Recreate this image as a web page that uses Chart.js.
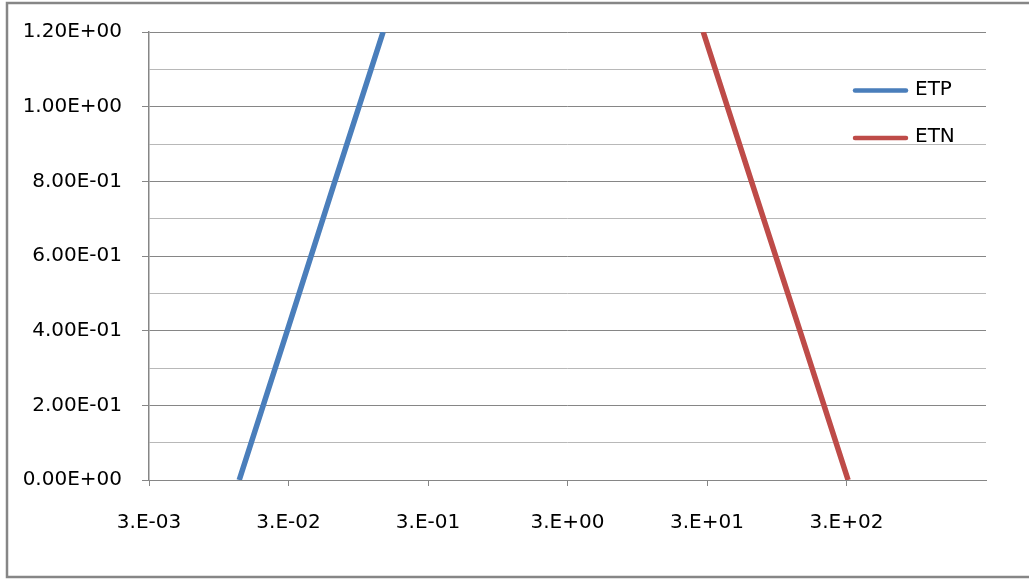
<!DOCTYPE html>
<html>
<head>
<meta charset="utf-8">
<title>ETP / ETN</title>
<script src="https://cdn.jsdelivr.net/npm/chart.js@4/dist/chart.umd.min.js"></script>
<style>
  html, body { margin: 0; padding: 0; background: #ffffff; }
  canvas { display: block; }
</style>
</head>
<body>
<canvas id="chart" width="1029" height="579"></canvas>
<script>
// Series values (x on a log axis, y linear)
const etpX = [0.0133, 0.0294, 0.0645, 0.143];
const etpY = [0, 0.4, 0.8, 1.2];
const etnX = [28.2, 62.5, 139, 308];
const etnY = [1.2, 0.8, 0.4, 0];

// Axis ticks and their labels
const xTickValues = [3e-3, 3e-2, 3e-1, 3e0, 3e1, 3e2];
const xTickLabels = ['3.E-03', '3.E-02', '3.E-01', '3.E+00', '3.E+01', '3.E+02'];
const yMajorValues = [0, 0.2, 0.4, 0.6, 0.8, 1.0, 1.2];
const yMajorLabels = ['0.00E+00', '2.00E-01', '4.00E-01', '6.00E-01', '8.00E-01', '1.00E+00', '1.20E+00'];
const yMinorValues = [0.1, 0.3, 0.5, 0.7, 0.9, 1.1];

const seriesNames = ['ETP', 'ETN'];
const seriesColors = ['#4a7ebb', '#be4b48'];

const pairs = (xs, ys) => xs.map((x, i) => ({ x: x, y: ys[i] }));

const isMajorY = v => yMajorValues.some(m => Math.abs(m - v) < 1e-9);

// Outer frame: left, top and bottom edges (the right edge runs past the canvas)
const framePlugin = {
  id: 'frame',
  beforeDraw(chart) {
    const ctx = chart.ctx;
    ctx.save();
    ctx.strokeStyle = '#868686';
    ctx.lineWidth = 2.5;
    ctx.beginPath();
    ctx.moveTo(chart.width + 5, 3);
    ctx.lineTo(7, 3);
    ctx.lineTo(7, chart.height - 2);
    ctx.lineTo(chart.width + 5, chart.height - 2);
    ctx.stroke();
    ctx.restore();
  }
};

// Legend drawn inside the plot area, one row per series
const insideLegend = {
  id: 'insideLegend',
  afterDraw(chart) {
    const ctx = chart.ctx;
    const rows = [90.5, 138];
    ctx.save();
    chart.data.datasets.forEach((ds, i) => {
      const y = rows[i];
      ctx.strokeStyle = ds.borderColor;
      ctx.lineWidth = 4.5;
      ctx.lineCap = 'round';
      ctx.beginPath();
      ctx.moveTo(855, y);
      ctx.lineTo(906, y);
      ctx.stroke();
      ctx.fillStyle = '#000000';
      ctx.font = '20px "DejaVu Sans"';
      ctx.textBaseline = 'middle';
      ctx.textAlign = 'left';
      ctx.fillText(ds.label, 915, y - 1);
    });
    ctx.restore();
  }
};

Chart.defaults.font.family = '"DejaVu Sans", sans-serif';
Chart.defaults.font.size = 20;
Chart.defaults.color = '#000000';

new Chart(document.getElementById('chart'), {
  type: 'line',
  data: {
    datasets: [
      {
        label: seriesNames[0],
        data: pairs(etpX, etpY),
        borderColor: seriesColors[0],
        backgroundColor: seriesColors[0],
        borderWidth: 5.5,
        pointRadius: 0,
        tension: 0,
        fill: false
      },
      {
        label: seriesNames[1],
        data: pairs(etnX, etnY),
        borderColor: seriesColors[1],
        backgroundColor: seriesColors[1],
        borderWidth: 5.5,
        pointRadius: 0,
        tension: 0,
        fill: false
      }
    ]
  },
  options: {
    responsive: false,
    animation: false,
    devicePixelRatio: 1,
    layout: { padding: { left: 0, top: 32, right: 43, bottom: 0 } },
    plugins: {
      legend: { display: false },
      tooltip: { enabled: false }
    },
    scales: {
      x: {
        type: 'logarithmic',
        min: 3e-3,
        max: 3e3,
        afterBuildTicks(axis) {
          axis.ticks = xTickValues.map(v => ({ value: v, major: false }));
        },
        afterFit(axis) { axis.height = 99; },
        ticks: {
          autoSkip: false,
          maxRotation: 0,
          padding: 25,
          callback(value, index) { return xTickLabels[index]; }
        },
        grid: {
          drawOnChartArea: false,
          drawTicks: true,
          tickLength: 6,
          tickColor: '#868686',
          tickWidth: 1
        },
        border: { display: true, color: '#868686', width: 1 }
      },
      y: {
        type: 'linear',
        min: 0,
        max: 1.2,
        afterBuildTicks(axis) {
          axis.ticks = yMajorValues.concat(yMinorValues)
            .sort((a, b) => a - b)
            .map(v => ({ value: v }));
        },
        afterFit(axis) { axis.width = 149; },
        ticks: {
          autoSkip: false,
          padding: 20,
          callback(value) {
            const i = yMajorValues.findIndex(m => Math.abs(m - value) < 1e-9);
            return i >= 0 ? yMajorLabels[i] : '';
          }
        },
        grid: {
          drawTicks: true,
          tickLength: 7,
          lineWidth: 1,
          color: c => (c.tick && isMajorY(c.tick.value)) ? '#868686' : '#b8b8b8',
          tickColor: c => (c.tick && isMajorY(c.tick.value)) ? '#868686' : 'rgba(0,0,0,0)'
        },
        border: { display: true, color: '#868686', width: 1.5 }
      }
    }
  },
  plugins: [framePlugin, insideLegend]
});
</script>
</body>
</html>
